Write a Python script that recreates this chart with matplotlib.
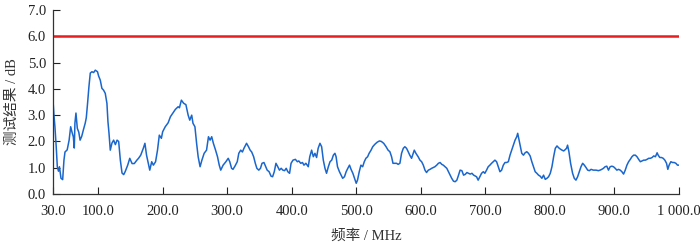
import numpy as np
import matplotlib
matplotlib.use("Agg")
import matplotlib.pyplot as plt
from matplotlib.ticker import FuncFormatter

plt.rcParams['font.family'] = ['Liberation Serif', 'Noto Sans CJK SC', 'DejaVu Sans']

freq = [30, 31.5, 33, 35, 36.7, 38.5, 40, 42.4, 45, 47, 48.6, 52, 55, 57.4, 59.5, 61.5, 63, 64, 65.6, 67.7,
        70, 72, 74.6, 77, 80, 81.6, 83.6, 85.7, 87.8, 90.4, 93, 95.6, 99, 100.7, 103.3, 105.8, 108.4, 111,
        113.6, 115.2, 116.8, 118.8, 121.4, 124, 126.7, 129.3, 131.8, 134.4, 137, 139.6, 142, 145.8, 149,
        152.6, 156, 160,
        162.6, 166, 170, 172.5, 175, 177.8, 180, 183, 185.6, 189, 192, 194.8, 198, 200, 204, 208.5, 212,
        215.6, 219.7, 224, 226, 229, 232.6, 236, 239.5, 242, 245, 247, 250, 252.6, 255, 258, 260.8, 264.3,
        268, 271, 273.5, 276, 278.6, 282, 285, 287.7, 290,
        293.7, 298, 301.6, 304, 306.8, 309, 312, 315.6, 318, 321, 323.6, 326, 328.6, 330, 333, 335.6, 338,
        341, 343.6, 346, 349, 351.6, 354, 357, 359.8, 362, 365, 368, 370.4, 373, 375.6, 378, 381, 383.7,
        386.3, 389, 391.5, 394, 396.7, 399, 402, 405.7, 408.8, 411, 414, 416.7, 419,
        422, 425.7, 428, 430.9, 433.5, 436, 438.6, 441, 443.8, 446.4, 449, 451.6, 454, 456.8, 459.4, 462,
        464.6, 467, 468.8, 471, 474, 476.7, 479, 481.8, 484.4, 487, 489.6, 492, 494.8, 497.4, 500, 502,
        504.7, 507.3, 510, 512.5, 515, 517.7, 520, 523, 525.6, 528.8, 532.4, 536, 539, 542.6, 546.3, 549.4,
        552.2, 554.8, 557, 560, 562.5, 565, 567.7, 570.3, 573, 575.4, 578, 580.6, 583, 585.8, 588.4, 590,
        592.5, 596, 598.8, 601.4, 604, 606.6, 609, 611.8, 614.4, 617, 619.6, 622, 624.8, 627.4, 630, 632.6,
        635, 637.8, 640.4, 643, 645.6, 648, 650.8, 653.4, 656, 658.6, 661, 663.8, 666.4, 669, 671.6, 674,
        676.8, 679.4, 682,
        686.5, 689, 691.6, 694.3, 697, 699.4, 702, 704.6, 707.2, 709.8, 712.4, 715, 717.6, 720.2, 722.8,
        725.4, 728, 730.6, 733.2, 735.8, 738.4, 741, 743.6, 746.2, 748.8, 750.3, 752.4, 754.4, 756.6, 759.2,
        761.8, 764.4, 767, 769.6, 772.2, 774.8, 777.4, 780, 782.6, 785.2, 787.8, 790.4, 793, 795.6, 798.2,
        800.8, 803.4, 806, 808.6, 811.2, 813.8, 816.4, 819, 821.6,
        824, 826, 827.6, 829.7, 832.3, 835.4, 838, 840.6, 843.2, 845.8, 848.4, 851, 853.6, 856.2, 858.8,
        861.4, 864, 867.6, 871.8, 875.4, 878, 880.6, 883.2, 885.8, 888.4, 891, 893.6, 896.2, 898.8, 901.4,
        904, 906.6, 909.2, 911.8, 914.4, 917, 919.6, 922.2, 924.8, 927.4, 930, 932.6, 935.2, 937.8, 940.4,
        943, 945.6, 948.2, 950.8, 953.4, 956, 958.6, 961.2, 963.8, 966.4, 968, 970.6, 973.2, 975.8, 978.4,
        981, 983, 985, 987.7, 990.3, 992.9, 995.5, 998, 1000]

result = [3.57, 3.0, 2.56, 1.8, 1.04, 0.87, 1.04, 0.6, 0.55, 1.29, 1.6, 1.68, 2.05, 2.56, 2.35, 2.18, 1.75, 2.7,
          3.08, 2.5, 2.35, 2.05, 2.2, 2.43, 2.7, 2.9, 3.45, 4.08, 4.6, 4.65, 4.62, 4.71, 4.65, 4.49, 4.33,
          4.02, 3.95, 3.83, 3.45, 2.75, 2.32, 1.67, 1.94, 2.05, 1.88, 2.05, 2.0, 1.29, 0.8, 0.74, 0.86, 1.1,
          1.36, 1.16, 1.16, 1.29,
          1.36, 1.48, 1.74, 1.93, 1.48, 1.17, 0.91, 1.23, 1.1, 1.23, 1.67, 2.24, 2.12, 2.37, 2.56, 2.71, 2.94,
          3.07, 3.22, 3.32, 3.28, 3.57, 3.45, 3.4, 3.0, 2.81, 3.0, 2.69, 2.56, 1.93, 1.42, 1.04, 1.29, 1.55,
          1.67, 2.18, 2.05, 2.18, 1.93, 1.67, 1.42, 1.1, 0.91,
          1.1, 1.23, 1.36, 1.23, 0.98, 0.94, 1.06, 1.23, 1.55, 1.67, 1.6, 1.74, 1.86, 1.93, 1.8, 1.67, 1.6,
          1.42, 1.17, 0.98, 0.91, 0.98, 1.17, 1.2, 1.04, 0.91, 0.85, 0.68, 0.66, 0.85, 1.17, 1.06, 0.91, 0.98,
          0.91, 0.89, 0.98, 0.85, 0.79, 1.17, 1.29, 1.32, 1.23, 1.26, 1.17, 1.2, 1.1,
          1.17, 1.04, 1.42, 1.67, 1.42, 1.55, 1.39, 1.74, 1.93, 1.8, 1.29, 0.98, 0.79, 1.04, 1.23, 1.29,
          1.48, 1.55, 1.42, 1.04, 0.85, 0.72, 0.6, 0.66, 0.85, 0.98, 1.1, 0.94, 0.79, 0.6, 0.41, 0.53,
          0.85, 1.1, 1.04, 1.23, 1.36, 1.42, 1.55, 1.67, 1.8, 1.89, 1.97, 2.02, 2.0, 1.93, 1.8, 1.67,
          1.61, 1.42, 1.17, 1.17, 1.17, 1.13, 1.17, 1.55, 1.74, 1.8, 1.74, 1.61, 1.48, 1.36, 1.55, 1.67,
          1.55, 1.42, 1.29, 1.23, 1.1, 0.91, 0.82, 0.91, 0.94, 0.98, 1.01, 1.04, 1.1, 1.17, 1.2, 1.13,
          1.1, 1.04, 0.98, 0.85, 0.72, 0.6, 0.49, 0.47, 0.53, 0.72, 0.91, 0.89, 0.72, 0.75, 0.82, 0.79,
          0.76, 0.79, 0.72,
          0.66, 0.53, 0.66, 0.79, 0.85, 0.79, 0.91, 1.04, 1.1, 1.17, 1.23, 1.29, 1.23, 1.04, 0.85,
          0.91, 1.1, 1.2, 1.2, 1.23, 1.48, 1.67, 1.86, 2.05, 2.18, 2.31, 2.05, 1.8, 1.55, 1.48,
          1.57, 1.61, 1.55, 1.45, 1.23, 1.04, 0.85, 0.79, 0.72, 0.68, 0.6, 0.72, 0.56, 0.6, 0.66,
          0.79, 1.04, 1.42, 1.74, 1.83, 1.76, 1.71, 1.67, 1.64,
          1.69, 1.74, 1.86, 1.61, 1.17, 0.79, 0.6, 0.53, 0.66, 0.85, 1.04, 1.17, 1.1, 1.01, 0.91,
          0.89, 0.94, 0.91, 0.91, 0.89, 0.91, 0.94, 0.98, 1.04, 1.06, 0.91, 1.04, 1.06, 1.04, 0.98,
          0.91, 0.94, 0.91, 0.85, 0.76, 0.91, 1.1, 1.23, 1.32, 1.42, 1.48, 1.48, 1.42, 1.32, 1.23,
          1.26, 1.29, 1.29, 1.32, 1.36, 1.36, 1.39, 1.45, 1.42, 1.57, 1.48, 1.39, 1.39, 1.36, 1.29,
          1.17, 0.94, 1.1, 1.23, 1.2, 1.2, 1.17, 1.1, 1.1]

limit_db = 6.0
xticks = [30, 100, 200, 300, 400, 500, 600, 700, 800, 900, 1000]
yticks = [0, 1, 2, 3, 4, 5, 6, 7]


def fmt_x(v, pos):
    s = f"{v:.1f}"
    if v >= 1000:
        s = f"{int(v) // 1000} {int(v) % 1000:03d}.0"
    return s


fig = plt.figure(figsize=(7, 2.42), dpi=100)
ax = fig.add_axes([0.0757, 0.198, 0.894, 0.761])

ax.plot(freq, result, color='#1a66cc', lw=1.1)
ax.axhline(limit_db, color='#e61e1e', lw=1.8)

ax.set_xlim(30, 1000)
ax.set_ylim(0, 7)
ax.set_xticks(xticks)
ax.set_yticks(yticks)
ax.xaxis.set_major_formatter(FuncFormatter(fmt_x))
ax.yaxis.set_major_formatter(FuncFormatter(lambda v, p: f"{v:.1f}"))
ax.tick_params(direction='in', length=5, width=0.8, labelsize=10.5, colors='#222222')
ax.tick_params(axis='x', pad=8)
ax.tick_params(axis='y', pad=5)

for s in ['top', 'right']:
    ax.spines[s].set_visible(False)
for s in ['left', 'bottom']:
    ax.spines[s].set_linewidth(0.9)
    ax.spines[s].set_color('#333333')

ax.set_xlabel('频率 / MHz', fontsize=10.5, color='#333333', labelpad=8)
ax.set_ylabel('测试结果 / dB', fontsize=10.5, color='#333333', labelpad=6)

fig.savefig('out.png', dpi=100)
